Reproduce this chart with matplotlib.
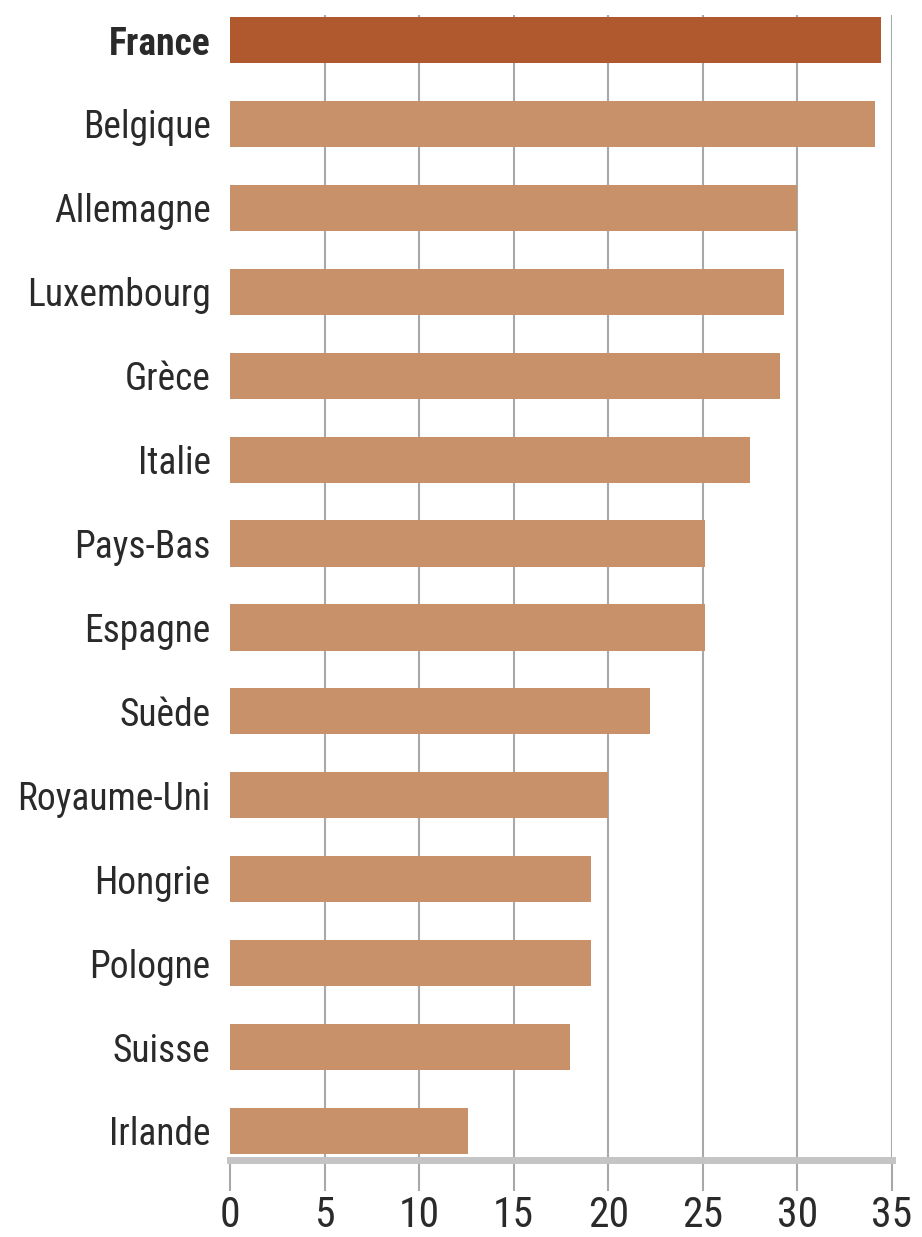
import matplotlib
matplotlib.use("Agg")
import matplotlib.pyplot as plt
from matplotlib import font_manager

countries = ["France", "Belgique", "Allemagne", "Luxembourg", "Grèce", "Italie",
             "Pays-Bas", "Espagne", "Suède", "Royaume-Uni", "Hongrie", "Pologne",
             "Suisse", "Irlande"]
values = [34.4, 34.1, 30.0, 29.3, 29.1, 27.5, 25.1, 25.1, 22.2, 20.0, 19.1, 19.1, 18.0, 12.6]
xticks = [0, 5, 10, 15, 20, 25, 30, 35]

names = {f.name for f in font_manager.fontManager.ttflist}
family = "DejaVu Sans"
for cand in ["Roboto Condensed", "Archivo Narrow", "PT Sans Narrow",
             "Liberation Sans Narrow", "Pragati Narrow", "Open Sans Condensed",
             "DejaVu Sans Condensed"]:
    if cand in names:
        family = cand
        break
plt.rcParams["font.family"] = [family, "DejaVu Sans"]

highlight = "#b0592e"
base = "#c8916a"
grid_col = "#a8a8a8"

fig = plt.figure(figsize=(9.22, 12.37), dpi=100)
ax = fig.add_axes([0.2495, 0.062, 0.718, 0.926])

n = len(countries)
ypos = [n - 1 - i for i in range(n)]
colors = [highlight if c == "France" else base for c in countries]

ax.set_xlim(0, 35)
ax.set_ylim(-0.35, n - 1 + 0.3)

for x in xticks[1:]:
    ax.axvline(x, color=grid_col, lw=1.5, zorder=0)

ax.barh(ypos, values, height=0.55, color=colors, zorder=2)

for s in ["top", "right", "left"]:
    ax.spines[s].set_visible(False)
ax.spines["bottom"].set_color("#c4c4c4")
ax.spines["bottom"].set_linewidth(5)

ax.set_xticks(xticks)
ax.set_xticklabels([str(t) for t in xticks], fontsize=30, color="#2a2a2a")
ax.tick_params(axis="x", length=22, width=1.5, color=grid_col, pad=3)

ax.set_yticks(ypos)
ax.set_yticklabels(countries, fontsize=27, color="#2a2a2a")
ax.tick_params(axis="y", length=0, pad=14)
for lab in ax.get_yticklabels():
    if lab.get_text() == "France":
        lab.set_fontweight("bold")

fig.savefig("out.png", dpi=100, facecolor="white")
